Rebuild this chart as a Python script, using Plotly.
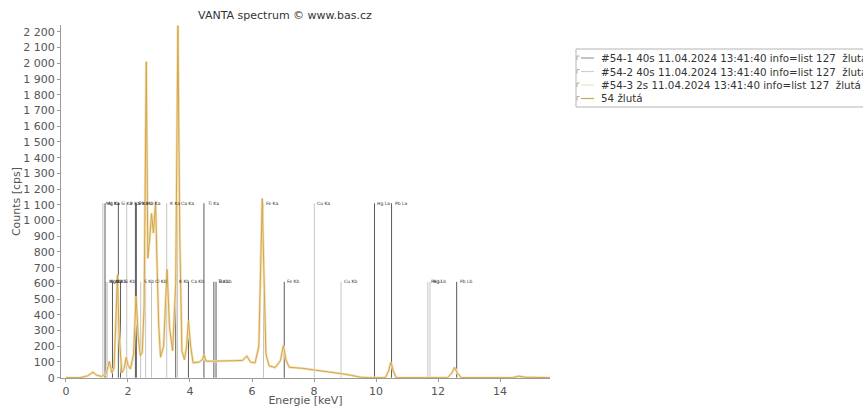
import plotly.graph_objects as go

# ---------------- data ----------------
energy_kev = [0.0, 0.45, 0.70, 0.87, 1.00, 1.15, 1.30, 1.40, 1.48, 1.55, 1.62, 1.66, 1.71, 1.80,
              1.88, 1.94, 2.00, 2.08, 2.18, 2.26, 2.33, 2.40, 2.46, 2.52, 2.59, 2.64, 2.69, 2.76,
              2.82, 2.89, 2.94, 2.99, 3.05, 3.15, 3.26, 3.34, 3.44, 3.54, 3.61, 3.67, 3.74, 3.82,
              3.89, 3.95, 4.02, 4.10, 4.30, 4.40, 4.45, 4.52, 4.70, 5.00, 5.40, 5.70, 5.83, 5.95,
              6.10, 6.22, 6.28, 6.33, 6.38, 6.45, 6.55, 6.75, 6.92, 7.01, 7.10, 7.20, 7.60, 8.00,
              8.50, 8.90, 9.20, 9.50, 9.80, 10.30, 10.40, 10.48, 10.56, 10.65, 12.30, 12.45, 12.53,
              12.62, 12.75, 14.40, 14.60, 14.80, 15.61]
counts_cps = [0, 0, 12, 35, 15, 8, 25, 105, 30, 60, 420, 655, 300, 30,
              60, 130, 80, 55, 150, 520, 260, 140, 160, 450, 2010, 760, 860, 1045,
              920, 1120, 700, 340, 130, 200, 690, 320, 170, 600, 2240, 900, 170, 115,
              200, 365, 200, 95, 100, 115, 145, 105, 105, 108, 108, 110, 138, 100,
              95, 200, 700, 1140, 700, 150, 75, 65, 110, 205, 110, 66, 60, 50,
              38, 25, 15, 3, 0, 0, 40, 100, 40, 0, 0, 30, 66,
              30, 0, 0, 10, 3, 0]

# element line markers (upper row: alpha lines, lower row: beta lines)
upper_energy = [1.19, 1.26, 1.69, 1.96, 2.24, 2.27, 2.57, 3.25, 3.60, 4.45, 6.37, 8.01, 9.95, 10.50]
upper_names = ["Mg Ka", "Al Ka", "Si Ka", "P Ka", "S Ka", "Pb Ma", "Cl Ka", "K Ka", "Ca Ka",
               "Ti Ka", "Fe Ka", "Cu Ka", "Hg La", "Pb La"]
upper_dark = [False, True, True, False, True, True, False, False, False, True, False, False, True, True]
upper_height = 1110

lower_energy = [1.29, 1.33, 1.50, 1.76, 2.41, 2.76, 3.54, 3.95, 4.77, 4.84, 7.04, 8.87, 11.67, 11.74, 12.60]
lower_names = ["Mg Kb", "Al Ka", "Al Kb", "Si Kb", "S Kb", "Cl Kb", "K Kb", "Ca Kb", "Ti Kb",
               "Ba Lb", "Fe Kb", "Cu Kb", "Pb Ll", "Hg Lb", "Pb Lb"]
lower_dark = [False, False, True, True, False, False, True, True, True, True, True, False, False, False, True]
lower_height = 610

legend_names = ["#54-1 40s 11.04.2024 13:41:40 info=list 127  žlutá",
                "#54-2 40s 11.04.2024 13:41:40 info=list 127  žlutá",
                "#54-3 2s 11.04.2024 13:41:40 info=list 127  žlutá",
                "54 žlutá"]
legend_colors = ["#9a9a9a", "#d0d0d0", "#eee2b8", "#c9a94e"]

title_text = "VANTA spectrum © www.bas.cz"
x_title = "Energie [keV]"
y_title = "Counts [cps]"

# ---------------- figure ----------------
FONT = "DejaVu Sans"
fig = go.Figure()

DARK = "#5a5a5a"
LIGHT = "#c4c4c4"


def add_markers(energies, dark_flags, height, dark):
    xs, ys = [], []
    for e, d in zip(energies, dark_flags):
        if d == dark:
            xs += [e, e, None]
            ys += [0, height, None]
    fig.add_trace(go.Scatter(x=xs, y=ys, mode="lines", showlegend=False, hoverinfo="skip",
                             line=dict(color=DARK if dark else LIGHT, width=1)))


for dk in (False, True):
    add_markers(upper_energy, upper_dark, upper_height, dk)
    add_markers(lower_energy, lower_dark, lower_height, dk)

# spectrum: light halo + core line
fig.add_trace(go.Scatter(x=energy_kev, y=counts_cps, mode="lines", showlegend=False,
                         line=dict(color="#f3e2b8", width=2.6)))
fig.add_trace(go.Scatter(x=energy_kev, y=counts_cps, mode="lines", name=legend_names[3],
                         showlegend=False, line=dict(color="#d4a64c", width=1)))

annotations = []
for e, n in zip(upper_energy, upper_names):
    annotations.append(dict(x=e, y=upper_height, xref="x", yref="y", text=n, showarrow=False,
                            xanchor="left", yanchor="middle", xshift=1,
                            font=dict(family=FONT, size=4.5, color="#333")))
for e, n in zip(lower_energy, lower_names):
    annotations.append(dict(x=e, y=lower_height, xref="x", yref="y", text=n, showarrow=False,
                            xanchor="left", yanchor="middle", xshift=1,
                            font=dict(family=FONT, size=4.5, color="#333")))

# manual legend (paper coords relative to plot area: x px 61..550, y px 378..25)
def px2paper_x(px):
    return (px - 61) / 489.0


def px2paper_y(py):
    return (378 - py) / 353.0


shapes = [dict(type="rect", xref="paper", yref="paper",
               x0=px2paper_x(576), x1=px2paper_x(900), y0=px2paper_y(107), y1=px2paper_y(49),
               line=dict(color="#b5b5b5", width=1), fillcolor="white")]
row_y = [58, 71.5, 85, 98.5]
for name, col, ry in zip(legend_names, legend_colors, row_y):
    shapes.append(dict(type="line", xref="paper", yref="paper",
                       x0=px2paper_x(581), x1=px2paper_x(594), y0=px2paper_y(ry), y1=px2paper_y(ry),
                       line=dict(color=col, width=1.2)))
    shapes.append(dict(type="line", xref="paper", yref="paper",
                       x0=px2paper_x(577), x1=px2paper_x(577), y0=px2paper_y(ry + 2), y1=px2paper_y(ry - 2),
                       line=dict(color="#aaaaaa", width=1)))
    shapes.append(dict(type="line", xref="paper", yref="paper",
                       x0=px2paper_x(577), x1=px2paper_x(579.5), y0=px2paper_y(ry - 2), y1=px2paper_y(ry - 2),
                       line=dict(color="#aaaaaa", width=1)))
    annotations.append(dict(x=px2paper_x(599), y=px2paper_y(ry), xref="paper", yref="paper",
                            text=name, showarrow=False, xanchor="left", yanchor="middle",
                            font=dict(family=FONT, size=10.3, color="#333")))

fig.update_layout(
    width=863, height=407,
    margin=dict(l=61, r=313, t=25, b=29),
    paper_bgcolor="white", plot_bgcolor="white",
    separators=", ",
    title=dict(text=title_text, x=285 / 863, xanchor="center", y=1 - 15 / 407, yanchor="middle",
               font=dict(family=FONT, size=11, color="#333")),
    font=dict(family=FONT, size=11, color="#555"),
    showlegend=False,
    annotations=annotations,
    shapes=shapes,
    xaxis=dict(range=[-0.16, 15.61], dtick=2, tick0=0, showgrid=False, zeroline=False,
               showline=True, linecolor="#9a9a9a", linewidth=1, ticks="outside", ticklen=3,
               tickcolor="#9a9a9a", tickfont=dict(family=FONT, size=11, color="#555"),
               automargin=False,
               title=dict(text=x_title, font=dict(family=FONT, size=11, color="#555"), standoff=0)),
    yaxis=dict(range=[-2, 2244], dtick=100, tick0=0, showgrid=False, zeroline=False,
               showline=True, linecolor="#9a9a9a", linewidth=1, ticks="outside", ticklen=3,
               tickcolor="#9a9a9a", separatethousands=True, automargin=False,
               tickfont=dict(family=FONT, size=11, color="#555"),
               title=dict(text=y_title, font=dict(family=FONT, size=11, color="#555"), standoff=0)),
)

fig.write_html("out.html")
